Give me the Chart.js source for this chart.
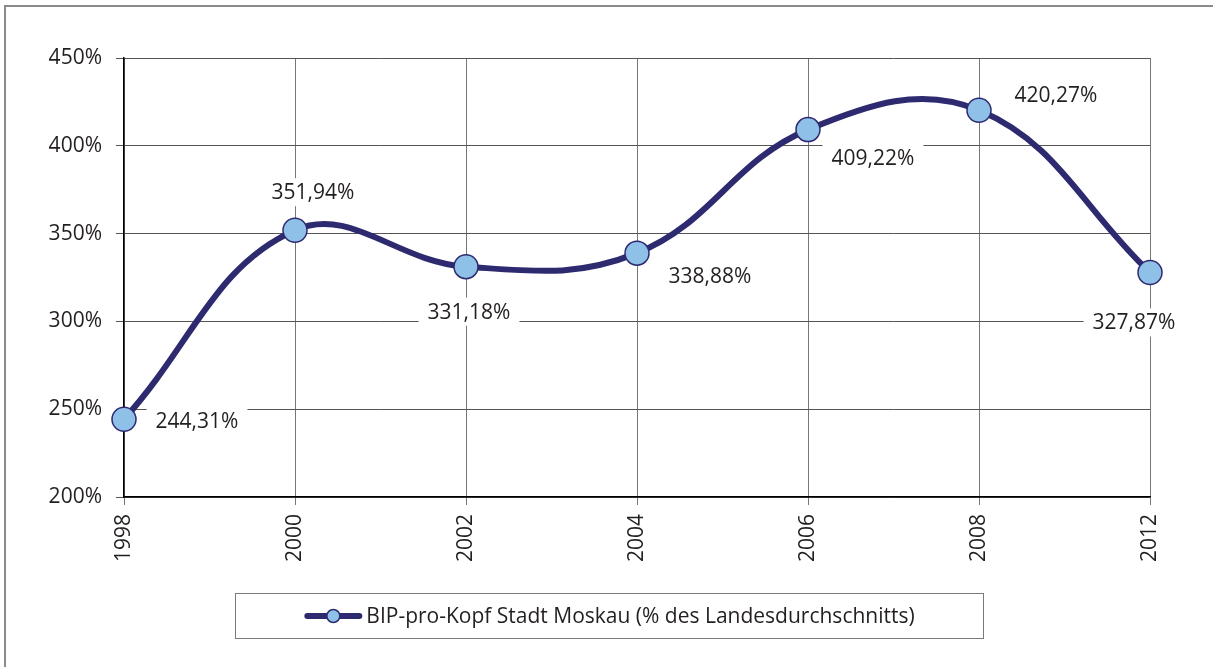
<!DOCTYPE html>
<html>
<head>
<meta charset="utf-8">
<script src="https://cdn.jsdelivr.net/npm/chart.js@4/dist/chart.umd.min.js"></script>
<style>
  body { margin: 0; background: #fff; }
  canvas { display: block; }
</style>
</head>
<body>
<canvas id="chart" width="1213" height="667"></canvas>
<script>
// data
const years = ['1998', '2000', '2002', '2004', '2006', '2008', '2012'];
const bipShare = [244.31, 351.94, 331.18, 338.88, 409.22, 420.27, 327.87];
const yTicks = [200, 250, 300, 350, 400, 450];
const seriesName = 'BIP-pro-Kopf Stadt Moskau (% des Landesdurchschnitts)';

// label placement relative to the point (style only)
const labelDx = [73, 18, 3, 73, 65, 77, -16];
const labelDy = [2, -38, 45, 23, 28, -15, 50];

const NAVY = '#2d2a70';
const LIGHT = '#8ec0e8';
const FONT = "'Open Sans', 'Noto Sans', sans-serif";
const FSIZE = 21;

Chart.defaults.font.family = FONT;
Chart.defaults.font.size = FSIZE;
Chart.defaults.color = '#231f20';

const fmt = v => v.toFixed(2).replace('.', ',') + '%';

const valueLabels = {
    id: 'valueLabels',
    beforeDatasetsDraw(chart) {
        const {ctx} = chart;
        const meta = chart.getDatasetMeta(0);
        ctx.save();
        ctx.font = FSIZE + 'px ' + FONT;
        ctx.textAlign = 'center';
        ctx.textBaseline = 'middle';
        meta.data.forEach((pt, i) => {
            const txt = fmt(bipShare[i]);
            const w = ctx.measureText(txt).width;
            const cx = pt.x + labelDx[i];
            const cy = pt.y + labelDy[i];
            ctx.fillStyle = '#fff';
            ctx.fillRect(cx - w / 2 - 9, cy - 14, w + 18, 28);
            ctx.fillStyle = '#231f20';
            ctx.fillText(txt, cx, cy + 1);
        });
        ctx.restore();
    }
};

const frameAndLegend = {
    id: 'frameAndLegend',
    afterDraw(chart) {
        const {ctx} = chart;
        ctx.save();
        // outer frame (top and left edges visible)
        ctx.strokeStyle = '#8a8a8a';
        ctx.lineWidth = 2;
        ctx.beginPath();
        ctx.moveTo(5, 667);
        ctx.lineTo(5, 6);
        ctx.lineTo(1213, 6);
        ctx.stroke();

        // legend box
        const bx = 235.5, by = 593.5, bw = 748, bh = 45;
        ctx.strokeStyle = '#7a7a7a';
        ctx.lineWidth = 1;
        ctx.strokeRect(bx, by, bw, bh);

        ctx.font = FSIZE + 'px ' + FONT;
        const tw = ctx.measureText(seriesName).width;
        const sw = 58;
        const total = sw + 4 + tw;
        const sx = bx + (bw - total) / 2;
        const cy = by + bh / 2;
        ctx.strokeStyle = NAVY;
        ctx.lineWidth = 6;
        ctx.lineCap = 'round';
        ctx.beginPath();
        ctx.moveTo(sx + 3, cy);
        ctx.lineTo(sx + sw - 3, cy);
        ctx.stroke();
        ctx.beginPath();
        ctx.arc(sx + sw / 2, cy, 6.5, 0, Math.PI * 2);
        ctx.fillStyle = LIGHT;
        ctx.fill();
        ctx.lineWidth = 1.5;
        ctx.stroke();
        ctx.fillStyle = '#231f20';
        ctx.textBaseline = 'middle';
        ctx.textAlign = 'left';
        ctx.fillText(seriesName, sx + sw + 4, cy + 1);
        ctx.restore();
    }
};

new Chart(document.getElementById('chart'), {
    type: 'line',
    data: {
        labels: years,
        datasets: [{
            label: seriesName,
            data: bipShare,
            borderColor: NAVY,
            borderWidth: 6,
            tension: 0.4,
            pointRadius: 12,
            pointBackgroundColor: LIGHT,
            pointBorderColor: NAVY,
            pointBorderWidth: 1.5,
            clip: false
        }]
    },
    options: {
        responsive: false,
        animation: false,
        layout: {padding: {left: 0, top: 58, right: 63, bottom: 100}},
        plugins: {
            legend: {display: false},
            tooltip: {enabled: false}
        },
        scales: {
            x: {
                offset: false,
                afterFit(scale) { scale.height = 70; },
                grid: {color: '#777', tickLength: 8, lineWidth: 1},
                border: {color: '#000', width: 1.5},
                ticks: {maxRotation: 90, minRotation: 90, autoSkip: false, padding: 9}
            },
            y: {
                min: yTicks[0],
                max: yTicks[yTicks.length - 1],
                afterFit(scale) { scale.width = 124; },
                afterBuildTicks(scale) { scale.ticks = yTicks.map(v => ({value: v})); },
                grid: {color: '#555', tickLength: 8, lineWidth: 1},
                border: {color: '#000', width: 1.5},
                ticks: {padding: 14, callback: v => v + '%'}
            }
        }
    },
    plugins: [valueLabels, frameAndLegend]
});
</script>
</body>
</html>
